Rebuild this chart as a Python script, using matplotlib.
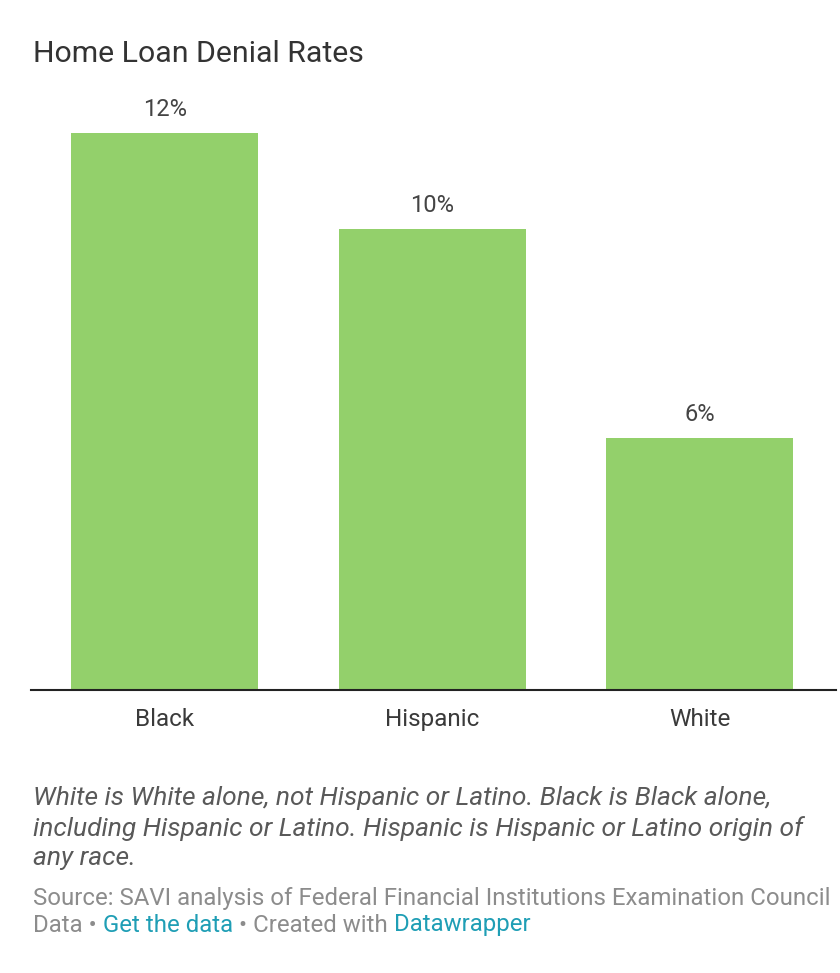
import matplotlib
matplotlib.use("Agg")
import matplotlib.pyplot as plt

# Home loan denial rates by race/ethnicity (percent)
groups = ["Black", "Hispanic", "White"]
denial_rates = [12.2, 10.1, 5.52]

title = "Home Loan Denial Rates"
notes = ("White is White alone, not Hispanic or Latino. Black is Black alone,\n"
         "including Hispanic or Latino. Hispanic is Hispanic or Latino origin of\n"
         "any race.")
source_line1 = "Source: SAVI analysis of Federal Financial Institutions Examination Council"

plt.rcParams["font.family"] = ["Roboto", "DejaVu Sans"]

W, H = 840, 973
fig = plt.figure(figsize=(W / 100, H / 100), dpi=100)
fig.patch.set_facecolor("white")

# axes placed in pixel terms: baseline at y=690, tallest bar top at y=133
left_px, right_px = 31, 836
base_px, top_px = 690, 133
ax = fig.add_axes([left_px / W, (H - base_px) / H,
                   (right_px - left_px) / W, (base_px - top_px) / H])

x = range(len(groups))
bars = ax.bar(x, denial_rates, width=0.70, color="#93d06b", edgecolor="none")
ax.set_xlim(-0.5, 2.51)
ax.set_ylim(0, max(denial_rates))

ax.bar_label(bars, labels=[f"{v:.0f}%" for v in denial_rates], padding=8.5,
             fontsize=17, color="#444444")

for s in ["top", "right", "left"]:
    ax.spines[s].set_visible(False)
ax.spines["bottom"].set_color("#222222")
ax.spines["bottom"].set_linewidth(1.5)
ax.set_yticks([])
ax.set_xticks(list(x))
ax.set_xticklabels(groups, fontsize=17.5, color="#3a3a3a")
ax.tick_params(axis="x", length=0, pad=13)
ax.set_facecolor("white")

fig.text(33 / W, 1 - 54 / H, title, fontsize=21.8, color="#333333",
         ha="left", va="center")

fig.text(33 / W, 1 - 828 / H, notes, fontsize=19, color="#595959",
         style="italic", ha="left", va="center", linespacing=1.27)

fig.text(33 / W, 1 - 898 / H, source_line1, fontsize=17.3, color="#8c8c8c",
         ha="left", va="center")

# second source line with coloured link-style segments
parts = [("Data \u2022 ", "#8c8c8c"), ("Get the data", "#1f9eb5"),
         (" \u2022 Created with ", "#8c8c8c"), ("Datawrapper", "#1f9eb5")]
fig.canvas.draw()
renderer = fig.canvas.get_renderer()
xpos = 33 / W
for txt, col in parts:
    t = fig.text(xpos, 1 - 925 / H, txt, fontsize=17.3, color=col,
                 ha="left", va="center")
    bb = t.get_window_extent(renderer=renderer)
    xpos += bb.width / W

fig.savefig("out.png", dpi=100, facecolor="white")
